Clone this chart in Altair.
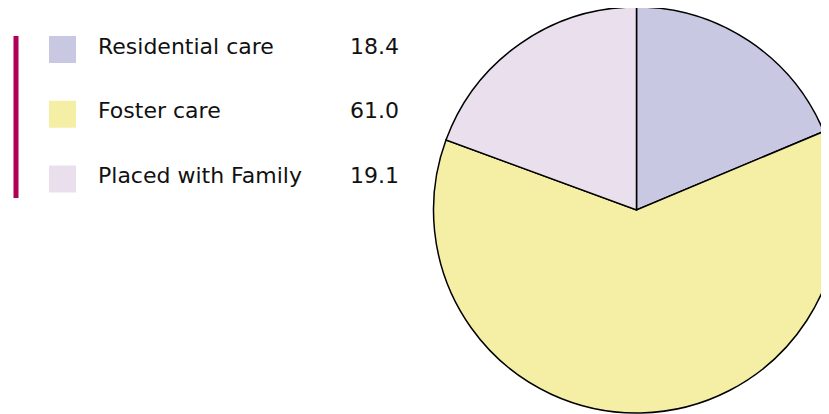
import altair as alt
import pandas as pd

categories = ["Residential care", "Foster care", "Placed with Family"]
values = [18.4, 61.0, 19.1]
labels = ["18.4", "61.0", "19.1"]
colors = ["#c8c8e3", "#f5efa6", "#eadfec"]

df = pd.DataFrame({
    "category": categories,
    "value": values,
    "label": labels,
    "idx": list(range(len(categories))),
})

color = alt.Color("category:N", scale=alt.Scale(domain=categories, range=colors), legend=None)
base = alt.Chart(df)

pie = base.mark_arc(stroke="black", strokeWidth=1.5, radius=203).encode(
    theta=alt.Theta("value:Q", stack=True),
    order=alt.Order("idx:Q"),
    color=color,
    x=alt.value(628.5),
    y=alt.value(202),
)

yscale = alt.Scale(domain=[0, 2], range=[41.5, 171])
yenc = alt.Y("idx:Q", scale=yscale, axis=None)

swatch = base.mark_square(size=729, opacity=1).encode(
    x=alt.value(54.5), y=yenc, color=color
)

names = base.mark_text(align="left", baseline="alphabetic", dy=4, fontSize=22,
                       font="DejaVu Sans", color="#111111").encode(
    x=alt.value(90), y=yenc, text="category:N"
)

nums = base.mark_text(align="right", baseline="alphabetic", dy=4, fontSize=22,
                      font="DejaVu Sans", color="#111111").encode(
    x=alt.value(391), y=yenc, text="label:N"
)

bar = alt.Chart(pd.DataFrame({"k": [0]})).mark_rule(color="#b0005a", strokeWidth=5).encode(
    x=alt.value(8), y=alt.value(28), y2=alt.value(190)
)

chart = alt.layer(pie, swatch, names, nums, bar).properties(
    width=813, height=406, padding=0,
    autosize=alt.AutoSizeParams(type="none"),
).configure_view(stroke=None)

chart.save("out.html", embed_options={"renderer": "svg", "actions": False})
